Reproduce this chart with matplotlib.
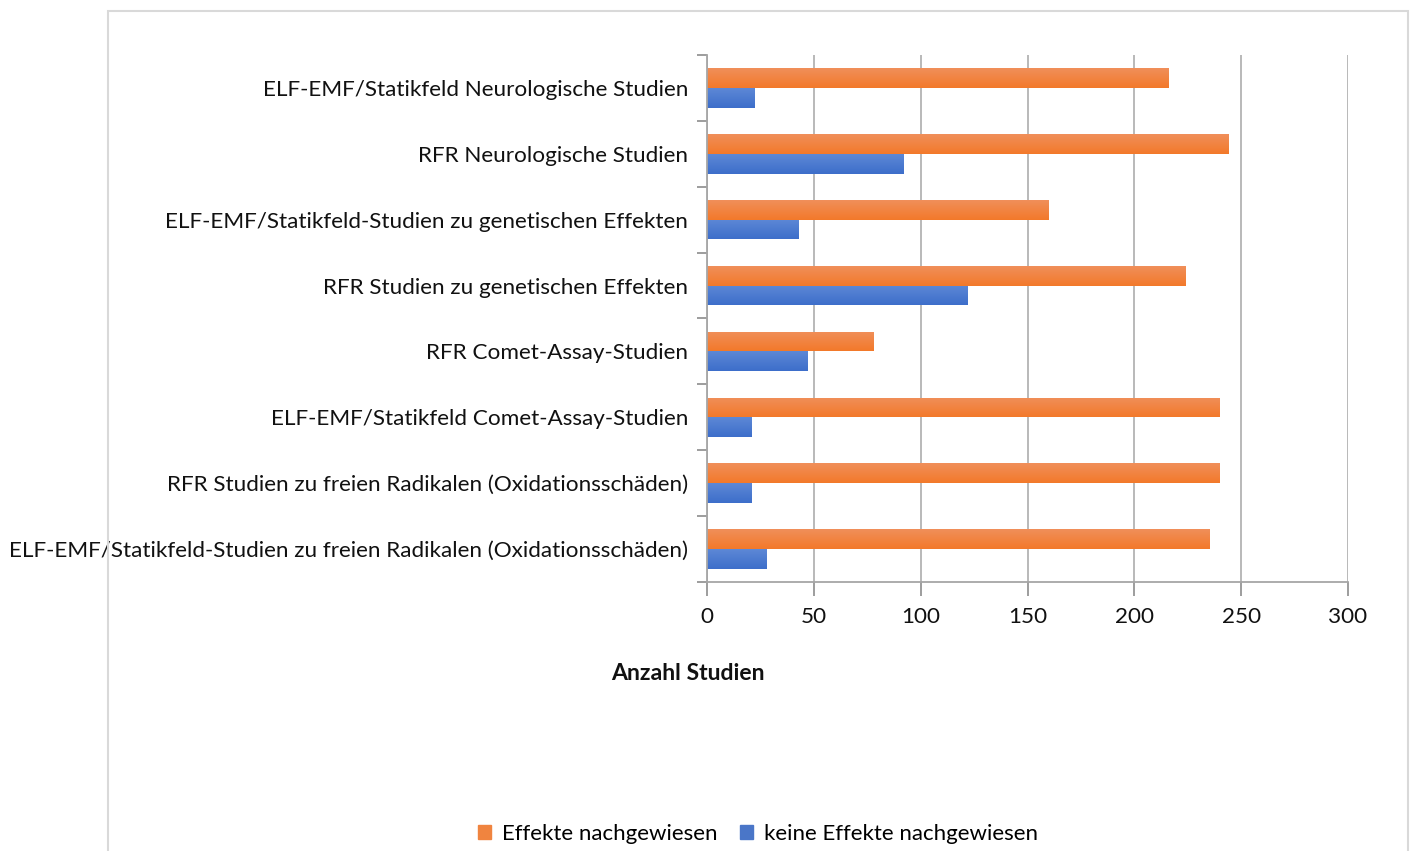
import matplotlib
matplotlib.use("Agg")
import matplotlib.pyplot as plt
import numpy as np
from matplotlib.colors import LinearSegmentedColormap
from matplotlib.patches import Rectangle

plt.rcParams['font.family'] = ['Lato', 'DejaVu Sans']

# categories, top to bottom
categories = [
    "ELF-EMF/Statikfeld Neurologische Studien",
    "RFR Neurologische Studien",
    "ELF-EMF/Statikfeld-Studien zu genetischen Effekten",
    "RFR Studien zu genetischen Effekten",
    "RFR Comet-Assay-Studien",
    "ELF-EMF/Statikfeld Comet-Assay-Studien",
    "RFR Studien zu freien Radikalen (Oxidationsschäden)",
    "ELF-EMF/Statikfeld-Studien zu freien Radikalen (Oxidationsschäden)",
]
effekte = [216, 244, 160, 224, 78, 240, 240, 235]
keine_effekte = [22, 92, 43, 122, 47, 21, 21, 28]
series_names = ["Effekte nachgewiesen", "keine Effekte nachgewiesen"]
x_ticks = [0, 50, 100, 150, 200, 250, 300]

orange_grad = LinearSegmentedColormap.from_list("og", ["#F3792A", "#F08F5A"])
blue_grad = LinearSegmentedColormap.from_list("bg", ["#3D6ECA", "#5D88D6"])


def shade_bars(ax, bars, cmap):
    # vertical gradient inside each bar, lighter on top
    grad = np.linspace(0, 1, 64).reshape(-1, 1)
    for b in bars:
        x0, y0 = b.get_x(), b.get_y()
        w, h = b.get_width(), b.get_height()
        b.set_facecolor("none")
        im = ax.imshow(grad, cmap=cmap, origin="lower", aspect="auto",
                       extent=[x0, x0 + w, y0, y0 + h], zorder=3)
        im.set_clip_path(b)


fig = plt.figure(figsize=(14.13, 8.51), dpi=100)
ax = fig.add_axes([0.5004, 0.3161, 0.4536, 0.6193])

n = len(categories)
centers = np.arange(n)[::-1] + 0.5
h = 0.3
bars_o = ax.barh(centers + h / 2, effekte, height=h, color="#F47F36",
                 linewidth=0, zorder=3, label=series_names[0])
bars_b = ax.barh(centers - h / 2, keine_effekte, height=h, color="#4472C4",
                 linewidth=0, zorder=3, label=series_names[1])
shade_bars(ax, bars_o, orange_grad)
shade_bars(ax, bars_b, blue_grad)

ax.set_xlim(0, 300)
ax.set_ylim(0, n)
ax.set_xticks(x_ticks)
ax.set_xticklabels([str(t) for t in x_ticks], fontsize=16.2)
ax.set_yticks(np.arange(n + 1))
ax.set_yticklabels([])
ax.set_yticks(centers, minor=True)
ax.set_yticklabels(categories, minor=True, fontsize=16.2, color="#111111")
ax.tick_params(axis="y", which="minor", length=0, pad=13.7)
ax.tick_params(axis="y", which="major", length=7, width=1.2, color="#8C8C8C")
ax.tick_params(axis="x", length=10, width=1.2, color="#8C8C8C", pad=8,
               labelcolor="#111111")

ax.grid(axis="x", color="#B3B3B3", linewidth=1.3, zorder=0)
for side in ["top", "right"]:
    ax.spines[side].set_visible(False)
for side in ["left", "bottom"]:
    ax.spines[side].set_color("#A6A6A6")
    ax.spines[side].set_linewidth(1.3)
    ax.spines[side].set_zorder(4)

fig.text(688 / 1413, 1 - 674 / 851, "Anzahl Studien", ha="center", va="center",
         fontsize=16.6, fontweight="bold", color="#111111")

handles = [Rectangle((0, 0), 1, 1, color="#F0843F"),
           Rectangle((0, 0), 1, 1, color="#4A76C8")]
fig.legend(handles, series_names, loc="center", ncol=2, frameon=False,
           bbox_to_anchor=(758 / 1413, 1 - 834 / 851), fontsize=16,
           handlelength=0.6, handleheight=0.6, handletextpad=0.5,
           columnspacing=1.0)

# outer chart frame, runs past the bottom edge
fig.patches.append(Rectangle((108 / 1413, -0.05), 1300 / 1413, 1.05 - 11 / 851,
                             transform=fig.transFigure, fill=False,
                             edgecolor="#D9D9D9", linewidth=1.5))

fig.savefig("out.png", dpi=100)
